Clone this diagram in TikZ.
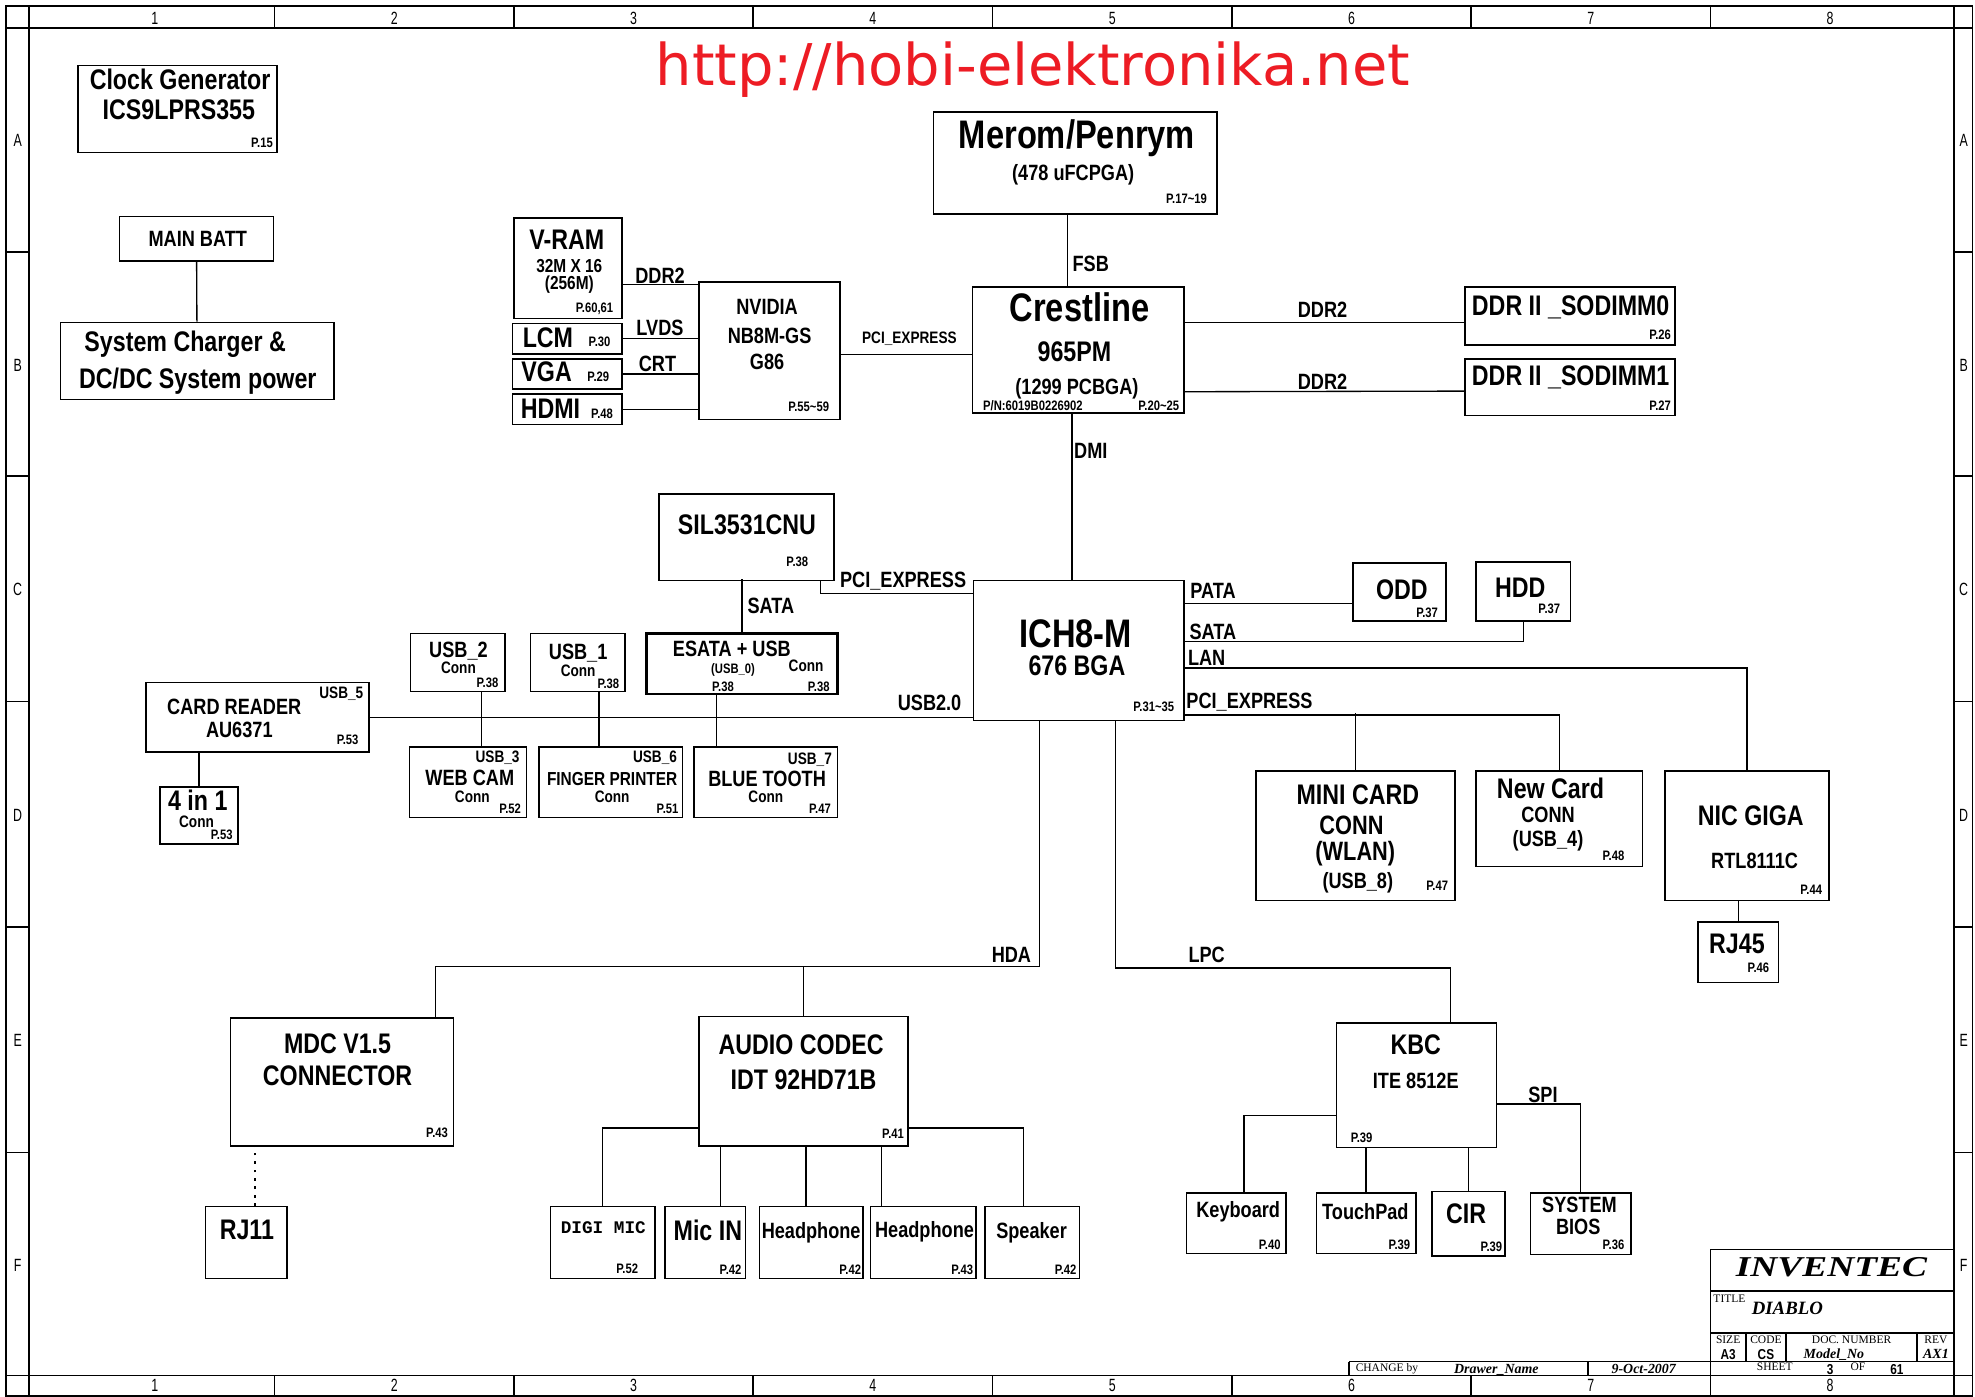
\documentclass[tikz,border=0pt]{standalone}
\usepackage{fontspec}
\setmainfont{Liberation Sans}[FakeStretch=0.82]
\newfontfamily\gridfont{Liberation Sans}[FakeStretch=0.7]
\newfontfamily\mnfont{Liberation Mono}
\newfontfamily\serifont{Liberation Serif}
\newfontfamily\logofont{Liberation Serif}[FakeStretch=1.3]
\newfontfamily\webfont{DejaVu Sans}
\usetikzlibrary{calc}
\definecolor{urlred}{RGB}{237,28,36}

% box from its corners: [opts]{name}{x1}{y1}{x2}{y2}
\newcommand{\blk}[6][]{\node[blk,#1,minimum width={(#5-#3)*0.2mm},minimum height={(#6-#4)*0.2mm}] (#2) at ({(#3+#5)/2},{(#4+#6)/2}) {};}

\begin{document}
\begin{tikzpicture}[x=0.02cm, y=-0.02cm,
  blk/.style={draw, line width=.7pt, inner sep=0pt},
  thick blk/.style={line width=1.2pt},
  wire/.style={line width=.6pt},
  frame/.style={line width=.8pt},
  txt/.style={anchor=base, inner sep=0pt},
  fH/.style={txt, font=\fontsize{18}{20}\selectfont\bfseries, yshift=-6.4pt},
  fM/.style={txt, font=\fontsize{12.8}{14}\selectfont\bfseries, yshift=-4.6pt},
  fK/.style={txt, font=\fontsize{12}{13}\selectfont\bfseries, yshift=-4.3pt},
  fN/.style={txt, font=\fontsize{10}{12}\selectfont\bfseries, yshift=-3.6pt},
  fF/.style={txt, font=\fontsize{8.5}{10}\selectfont\bfseries, yshift=-3pt},
  fS/.style={txt, font=\fontsize{7.5}{9}\selectfont\bfseries, yshift=-2.7pt},
  fP/.style={txt, font=\fontsize{6.2}{7}\selectfont\bfseries, yshift=-2.2pt},
  grid/.style={txt, font=\gridfont\fontsize{8}{9}\selectfont, yshift=-2.9pt},
  tbs/.style={txt, font=\serifont\fontsize{5.2}{6}\selectfont, yshift=-1.7pt},
  tbi/.style={txt, font=\serifont\fontsize{6.3}{7}\selectfont\bfseries\itshape, yshift=-2.1pt},
  tbb/.style={txt, font=\fontsize{6.5}{7}\selectfont\bfseries, yshift=-2.3pt},
]
\useasboundingbox (0,0) rectangle (1568,1109);

% sheet frame
\draw[frame] (5,5) rectangle (1566,1108);
\draw[frame] (23,5) -- (23,1108) (1551,5) -- (1551,1108) (5,22) -- (1566,22) (5,1092) -- (1566,1092);
\foreach \x in {218,408,598,788,978,1168,1358}
  \draw[frame] (\x,5) -- (\x,22) (\x,1092) -- (\x,1108);
\foreach \y in {200,378,557,736,915}
  \draw[frame] (5,\y) -- (23,\y) (1551,\y) -- (1566,\y);
\foreach \x [count=\i] in {123,313,503,693,883,1073,1263,1453} {
  \node[grid] (colT\i) at (\x,14) {\i};
  \node[grid] (colB\i) at (\x,1100) {\i};
}
\foreach \l/\y in {A/111,B/290,C/468,D/647,E/826,F/1004} {
  \node[grid] (rowL\l) at (14,\y) {\l};
  \node[grid] (rowR\l) at (1559,\y) {\l};
}

\node[txt, font=\webfont\fontsize{26}{28}\selectfont, text=urlred] (url) at (820,67.5) {http://hobi-elektronika.net};

% boxes
\blk{clk}{62}{52}{220}{121}
\blk{batt}{95}{172}{217}{207}
\blk{chg}{48}{256}{265}{317}
\blk{cpu}{741}{89}{966}{170}
\blk{gmch}{772}{228}{940}{328}
\blk{vram}{408}{173}{494}{253}
\blk{lcm}{407}{257}{494}{281}
\blk{vga}{407}{285}{494}{309}
\blk{hdmi}{407}{313}{494}{337}
\blk{nv}{555}{224}{667}{333}
\blk{dimm0}{1163}{228}{1330}{274}
\blk{dimm1}{1163}{285}{1330}{330}
\blk{sil}{523}{392}{662}{461}
\blk{ich}{773}{461}{940}{572}
\blk[thick blk]{esata}{513}{503}{665}{551}
\blk{usbb}{326}{503}{401}{549}
\blk{usba}{421}{503}{496}{549}
\blk{card}{116}{542}{293}{597}
\blk{cam}{325}{593}{418}{649}
\blk{fp}{428}{593}{542}{649}
\blk{bt}{551}{593}{665}{649}
\blk{fourin1}{127}{625}{189}{670}
\blk{odd}{1074}{447}{1148}{493}
\blk{hdd}{1172}{446}{1247}{493}
\blk{mini}{997}{612}{1155}{715}
\blk{newc}{1172}{612}{1304}{688}
\blk{nic}{1322}{612}{1452}{715}
\blk{rj45}{1348}{732}{1412}{780}
\blk{mdc}{183}{808}{360}{910}
\blk{rj11}{163}{958}{228}{1015}
\blk{codec}{555}{807}{721}{910}
\blk{digi}{437}{958}{520}{1015}
\blk{mic}{528}{958}{592}{1015}
\blk{hp1}{603}{958}{685}{1015}
\blk{hp2}{691}{958}{775}{1015}
\blk{spk}{782}{958}{857}{1015}
\blk{kbc}{1061}{812}{1188}{911}
\blk{kbd}{942}{947}{1021}{995}
\blk{tp}{1045}{947}{1124}{995}
\blk{cir}{1137}{946}{1195}{997}
\blk{bios}{1215}{947}{1295}{996}

% box texts
\node[fM] (clkA) at (143,63) {Clock Generator};
\node[fM] (clkB) at (142,87) {ICS9LPRS355};
\node[fP] (clkP) at (208,113) {P.15};
\node[fN] (battA) at (157,189) {MAIN BATT};
\node[fM] (chgA) at (147,271) {System Charger \&};
\node[fM] (chgB) at (157,300) {DC/DC System power};

\node[fH] (cpuA) at (855,107) {Merom/Penrym};
\node[fN] (cpuB) at (852,137) {(478 uFCPGA)};
\node[fP] (cpuP) at (942,158) {P.17\textasciitilde19};
\node[fH] (gmchA) at (857,244) {Crestline};
\node[fM] (gmchB) at (853,279) {965PM};
\node[fN] (gmchC) at (855,307) {(1299 PCBGA)};
\node[fP] (gmchN) at (820,322) {P/N:6019B0226902};
\node[fP] (gmchP) at (920,322) {P.20\textasciitilde25};

\node[fM] (vramA) at (450,190) {V-RAM};
\node[fF] (vramB) at (452,211) {32M X 16};
\node[fF] (vramC) at (452,224.5) {(256M)};
\node[fP] (vramP) at (472,244) {P.60,61};
\node[fM] (lcmA) at (435,268) {LCM};
\node[fP] (lcmP) at (476,271) {P.30};
\node[fM] (vgaA) at (434,295) {VGA};
\node[fP] (vgaP) at (475,299) {P.29};
\node[fM] (hdmiA) at (437,324) {HDMI};
\node[fP] (hdmiP) at (478,328) {P.48};
\node[fN] (nvA) at (609,243) {NVIDIA};
\node[fN] (nvB) at (611,266) {NB8M-GS};
\node[fN] (nvC) at (609,287) {G86};
\node[fP] (nvP) at (642,323) {P.55\textasciitilde59};

\node[fM] (dimm0A) at (1247,242) {DDR II \_SODIMM0};
\node[fP] (dimm0P) at (1318,266) {P.26};
\node[fM] (dimm1A) at (1247,298) {DDR II \_SODIMM1};
\node[fP] (dimm1P) at (1318,322) {P.27};

\node[fM] (silA) at (593,416) {SIL3531CNU};
\node[fP] (silP) at (633,446) {P.38};
\node[fH] (ichA) at (854,503) {ICH8-M};
\node[fM] (ichB) at (855,528) {676 BGA};
\node[fP] (ichP) at (916,561) {P.31\textasciitilde35};

\node[fN] (esataA) at (581,515) {ESATA + USB};
\node[fP] (esataB) at (582,531) {(USB\_0)};
\node[fS] (esataC) at (640,528) {Conn};
\node[fP] (esataP) at (574,545) {P.38};
\node[fP] (esataQ) at (650,545) {P.38};
\node[fN] (usbbA) at (364,516) {USB\_2};
\node[fS] (usbbB) at (364,530) {Conn};
\node[fP] (usbbP) at (387,542) {P.38};
\node[fN] (usbaA) at (459,517) {USB\_1};
\node[fS] (usbaB) at (459,532) {Conn};
\node[fP] (usbaP) at (483,543) {P.38};
\node[fS] (cardU) at (271,550) {USB\_5};
\node[fN] (cardA) at (186,561) {CARD READER};
\node[fN] (cardB) at (190,579) {AU6371};
\node[fP] (cardP) at (276,587) {P.53};
\node[fS] (camU) at (395,601) {USB\_3};
\node[fN] (camA) at (373,617) {WEB CAM};
\node[fS] (camB) at (375,632) {Conn};
\node[fP] (camP) at (405,642) {P.52};
\node[fS] (fpU) at (520,601) {USB\_6};
\node[fF] (fpA) at (486,618) {FINGER PRINTER};
\node[fS] (fpB) at (486,632) {Conn};
\node[fP] (fpP) at (530,642) {P.51};
\node[fS] (btU) at (643,602) {USB\_7};
\node[fN] (btA) at (609,618) {BLUE TOOTH};
\node[fS] (btB) at (608,632) {Conn};
\node[fP] (btP) at (651,642) {P.47};
\node[fM] (fourA) at (157,635) {4 in 1};
\node[fS] (fourB) at (156,652) {Conn};
\node[fP] (fourP) at (176,663) {P.53};

\node[fM] (oddA) at (1113,468) {ODD};
\node[fP] (oddP) at (1133,486) {P.37};
\node[fM] (hddA) at (1207,466) {HDD};
\node[fP] (hddP) at (1230,483) {P.37};
\node[fM] (miniA) at (1078,631) {MINI CARD};
\node[fK] (miniB) at (1073,655) {CONN};
\node[fK] (miniC) at (1076,676) {(WLAN)};
\node[fN] (miniD) at (1078,699) {(USB\_8)};
\node[fP] (miniP) at (1141,703) {P.47};
\node[fM] (newcA) at (1231,626) {New Card};
\node[fN] (newcB) at (1229,647) {CONN};
\node[fN] (newcC) at (1229,666) {(USB\_4)};
\node[fP] (newcP) at (1281,679) {P.48};
\node[fM] (nicA) at (1390,647) {NIC GIGA};
\node[fN] (nicB) at (1393,683) {RTL8111C};
\node[fP] (nicP) at (1438,706) {P.44};
\node[fM] (rj45A) at (1379,749) {RJ45};
\node[fP] (rj45P) at (1396,768) {P.46};

\node[fM] (mdcA) at (268,828) {MDC V1.5};
\node[fM] (mdcB) at (268,854) {CONNECTOR};
\node[fP] (mdcP) at (347,899) {P.43};
\node[fM] (rj11A) at (196,976) {RJ11};
\node[fM] (codecA) at (636,829) {AUDIO CODEC};
\node[fM] (codecB) at (638,857) {IDT 92HD71B};
\node[fP] (codecP) at (709,900) {P.41};
\node[txt, font=\mnfont\fontsize{8}{9}\selectfont\bfseries, yshift=-2.6pt] (digiA) at (479,975) {DIGI MIC};
\node[fP] (digiP) at (498,1007) {P.52};
\node[fM] (micA) at (562,977) {Mic IN};
\node[fP] (micP) at (580,1008) {P.42};
\node[fN] (hp1A) at (644,977) {Headphone};
\node[fP] (hp1P) at (675,1008) {P.42};
\node[fN] (hp2A) at (734,976) {Headphone};
\node[fP] (hp2P) at (764,1008) {P.43};
\node[fN] (spkA) at (819,977) {Speaker};
\node[fP] (spkP) at (846,1008) {P.42};

\node[fM] (kbcA) at (1124,829) {KBC};
\node[fN] (kbcB) at (1124,858) {ITE 8512E};
\node[fP] (kbcP) at (1081,903) {P.39};
\node[fN] (kbdA) at (983,960) {Keyboard};
\node[fP] (kbdP) at (1008,988) {P.40};
\node[fN] (tpA) at (1084,962) {TouchPad};
\node[fP] (tpP) at (1111,988) {P.39};
\node[fM] (cirA) at (1164,963) {CIR};
\node[fP] (cirP) at (1184,990) {P.39};
\node[fN] (biosA) at (1254,956) {SYSTEM};
\node[fN] (biosB) at (1253,974) {BIOS};
\node[fP] (biosP) at (1281,988) {P.36};

% bus labels
\node[fN] (lFSB) at (866,209) {FSB};
\node[fN] (lDMI) at (866,358) {DMI};
\node[fN] (lDDRv) at (524,219) {DDR2};
\node[fN] (lLVDS) at (524,260) {LVDS};
\node[fN] (lCRT) at (522,289) {CRT};
\node[fS] (lPCIg) at (722,268) {PCI\_EXPRESS};
\node[fN] (lDDR0) at (1050,246) {DDR2};
\node[fN] (lDDR1) at (1050,303) {DDR2};
\node[fN] (lPCIs) at (717,460) {PCI\_EXPRESS};
\node[fN] (lSATAs) at (612,481) {SATA};
\node[fN] (lUSB) at (738,558) {USB2.0};
\node[fN] (lPATA) at (963,469) {PATA};
\node[fN] (lSATA) at (963,501) {SATA};
\node[fN] (lLAN) at (958,522) {LAN};
\node[fN] (lPCIe) at (992,556) {PCI\_EXPRESS};
\node[fN] (lHDA) at (803,758) {HDA};
\node[fN] (lLPC) at (958,758) {LPC};
\node[fN] (lSPI) at (1225,869) {SPI};

% connectors
\draw[wire] (batt) -- (chg);
\draw[wire] ($(cpu.south)+(-6,0)$) -- ++(0,58);
\draw[wire] ($(gmch.south)+(-5,0)$) -- ++(0,133);
\draw[wire] ($(vram.east)+(0,13)$) -- ($(nv.west)+(0,-52.5)$);
\draw[wire] (lcm.east) -- (lcm.east -| nv.west);
\draw[wire] (vga.east) -- (vga.east -| nv.west);
\draw[wire] (hdmi.east) -- (hdmi.east -| nv.west);
\draw[wire] ($(nv.east)+(0,3)$) -- ($(gmch.west)+(0,3.5)$);
\draw[wire] ($(dimm0.west)+(0,5)$) -- ($(gmch.east)+(0,-22)$);
\draw[wire] ($(dimm1.west)+(0,3)$) -- ($(gmch.east)+(0,33)$);
\draw[wire] ($(sil.south east)+(-11,0)$) |- ($(ich.north west)+(0,11)$);
\draw[wire] (esata.north) -- ++(0,-42);
\draw[wire] (card.east) -- (card.east -| ich.west);
\draw[wire] ($(usbb.south)+(19,0)$) -- ++(0,44);
\draw[wire] ($(usba.south)+(17,0)$) -- ++(0,44);
\draw[wire] ($(esata.south)+(-20,0)$) -- ++(0,42);
\draw[wire] (fourin1.north) -- ++(0,-28);
\draw[wire] ($(odd.west)+(0,9)$) -- ($(ich.east)+(0,-37.5)$);
\draw[wire] (hdd.south) |- ($(ich.north east)+(0,49)$);
\draw[wire] ($(ich.north east)+(0,70)$) -| (nic.north);
\draw[wire] ($(ich.south east)+(0,-5)$) -| (newc.north);
\draw[wire] (mini.north) -- ++(0,-45);
\draw[wire] (rj45.north) -- ++(0,-17);
\draw[wire] ($(ich.south west)+(53,0)$) |- ($(mdc.north)+(74,-40)$) -- ($(mdc.north)+(74,0)$);
\draw[wire] (codec.north) -- ++(0,-39);
\draw[wire] ($(ich.south west)+(113,0)$) |- ($(kbc.north)+(27,-43)$) -- ($(kbc.north)+(27,0)$);
\draw[wire, dash pattern=on 1.2pt off 2.6pt] ($(rj11.north)+(7,0)$) -- ++(0,-48);
\draw[wire] ($(codec.south west)+(0,-15)$) -| (digi.north);
\draw[wire] ($(codec.south east)+(0,-15)$) -| ($(spk.north)+(-7,0)$);
\draw[wire] ($(mic.north)+(12,0)$) -- ++(0,-48);
\draw[wire] ($(hp1.north)+(-4,0)$) -- ++(0,-48);
\draw[wire] ($(hp2.north)+(-33,0)$) -- ++(0,-48);
\draw[wire] ($(kbc.south west)+(0,-26)$) -| ($(kbd.north)+(6,0)$);
\draw[wire] (tp.north) -- ++(0,-36);
\draw[wire] (cir.north) -- ++(0,-35);
\draw[wire] ($(kbc.south east)+(0,-35)$) -| (bios.north);

% title block
\draw[frame] (1358,992) rectangle (1551,1092);
\draw[frame] (1358,1025) -- (1551,1025) (1358,1058) -- (1551,1058) (1071,1081) -- (1551,1081);
\draw[frame] (1386,1058) -- (1386,1081) (1418,1058) -- (1418,1081) (1522,1058) -- (1522,1081);
\draw[frame] (1071,1081) -- (1071,1092) (1261,1081) -- (1261,1092);
\node[txt, font=\logofont\fontsize{13}{14}\selectfont\bfseries\itshape, yshift=-4.3pt] (tbLogo) at (1454,1006) {INVENTEC};
\node[tbs, anchor=base west] (tbTitle) at (1360,1031) {TITLE};
\node[txt, font=\serifont\fontsize{8.5}{10}\selectfont\bfseries\itshape, yshift=-2.8pt] (tbName) at (1419,1039) {DIABLO};
\node[tbs] (tbSize) at (1372,1064) {SIZE};
\node[tbb] (tbA3) at (1372,1075) {A3};
\node[tbs] (tbCode) at (1402,1064) {CODE};
\node[tbb] (tbCS) at (1402,1075) {CS};
\node[tbs] (tbDoc) at (1470,1064) {DOC. NUMBER};
\node[tbi] (tbModel) at (1456,1075) {Model\_No};
\node[tbs] (tbRev) at (1537,1064) {REV};
\node[tbi] (tbAX) at (1537,1075) {AX1};
\node[tbs] (tbSheet) at (1409,1085) {SHEET};
\node[tbb] (tbNum) at (1453,1087) {3};
\node[tbs] (tbOf) at (1475,1085) {OF};
\node[tbb] (tbTot) at (1506,1087) {61};
\node[tbs, anchor=base west] (tbChg) at (1076,1086) {CHANGE by};
\node[tbi] (tbDraw) at (1188,1087) {Drawer\_Name};
\node[tbi] (tbDate) at (1305,1087) {9-Oct-2007};
\end{tikzpicture}
\end{document}
